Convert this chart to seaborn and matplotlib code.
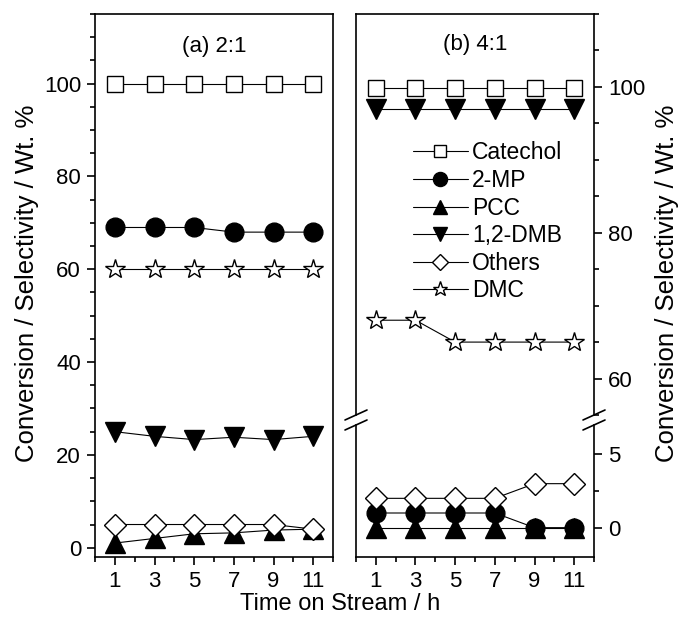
import matplotlib
matplotlib.use("Agg")
import matplotlib.pyplot as plt
import seaborn as sns
import numpy as np
from matplotlib.ticker import MultipleLocator, FixedLocator
from matplotlib.lines import Line2D

sns.set_theme(style="white")
plt.rcParams['font.family'] = ['Liberation Sans', 'DejaVu Sans']
plt.rcParams['text.color'] = 'black'

hours = [1, 3, 5, 7, 9, 11]
series_names = ["Catechol", "2-MP", "PCC", "1,2-DMB", "Others", "DMC"]

# Panel (a) 2:1
a_catechol = [100, 100, 100, 100, 100, 100]
a_2mp = [69, 69, 69, 68, 68, 68]
a_pcc = [1, 2, 3, 3.2, 3.8, 4]
a_dmb = [25, 24, 23.3, 23.8, 23.3, 24]
a_others = [5, 5, 5, 5, 5, 4]
a_dmc = [60, 60, 60, 60, 60, 60]

# Panel (b) 4:1
b_catechol = [99.8, 99.8, 99.8, 99.8, 99.8, 99.8]
b_2mp = [1, 1, 1, 1, 0, 0]
b_pcc = [0, 0, 0, 0, 0, 0]
b_dmb = [97, 97, 97, 97, 97, 97]
b_others = [2, 2, 2, 2, 3, 3]
b_dmc = [68, 68, 65, 65, 65, 65]

styles = {
    "Catechol": dict(marker="s", markersize=11, markerfacecolor="white"),
    "2-MP": dict(marker="o", markersize=13.5, markerfacecolor="black"),
    "PCC": dict(marker="^", markersize=14, markerfacecolor="black"),
    "1,2-DMB": dict(marker="v", markersize=14, markerfacecolor="black"),
    "Others": dict(marker="D", markersize=11.5, markerfacecolor="white"),
    "DMC": dict(marker="*", markersize=15, markerfacecolor="white"),
}

FS = 16
W, H = 681, 619
fig = plt.figure(figsize=(W / 100, H / 100), dpi=100)

def fx(px):
    return px / W

def fy(py):
    return 1 - py / H

axL = fig.add_axes([fx(95), fy(557), fx(333) - fx(95), fy(14) - fy(557)])
axU = fig.add_axes([fx(356), fy(415), fx(594) - fx(356), fy(14) - fy(415)])
axD = fig.add_axes([fx(356), fy(557), fx(594) - fx(356), fy(425) - fy(557)])

def draw(ax, name, vals):
    st = styles[name]
    sns.lineplot(x=hours, y=vals, ax=ax, color="black", linewidth=0.8,
                 markeredgecolor="black", markeredgewidth=1.0, zorder=3,
                 **st)

a_data = dict(zip(series_names, [a_catechol, a_2mp, a_pcc, a_dmb, a_others, a_dmc]))
b_data = dict(zip(series_names, [b_catechol, b_2mp, b_pcc, b_dmb, b_others, b_dmc]))

for n in series_names:
    draw(axL, n, a_data[n])
    draw(axU, n, b_data[n])
    draw(axD, n, b_data[n])

for ax in (axL, axU, axD):
    ax.set_xlim(0, 12)
    for s in ax.spines.values():
        s.set_color("black")
        s.set_linewidth(1.2)
    ax.set_xlabel("")
    ax.set_ylabel("")
    ax.tick_params(which="major", direction="out", length=6, width=1.2,
                   labelsize=FS, colors="black", pad=4)
    ax.tick_params(which="minor", direction="out", length=3.5, width=1.2,
                   colors="black")

axL.set_ylim(-2, 115)
axL.yaxis.set_major_locator(FixedLocator([0, 20, 40, 60, 80, 100]))
axL.yaxis.set_minor_locator(MultipleLocator(5))
axL.xaxis.set_major_locator(FixedLocator(hours))
axL.xaxis.set_minor_locator(MultipleLocator(2))
axL.tick_params(axis="both", which="both", left=True, bottom=True, right=False, top=False)

axU.set_ylim(55, 110)
axU.yaxis.set_major_locator(FixedLocator([60, 80, 100]))
axU.yaxis.set_minor_locator(MultipleLocator(5))
axU.yaxis.tick_right()
axU.tick_params(axis="y", which="both", right=True, left=False)
axU.tick_params(axis="x", which="both", bottom=False, top=False, labelbottom=False)
axU.spines["bottom"].set_visible(False)

axD.set_ylim(-2, 7)
axD.yaxis.set_major_locator(FixedLocator([0, 5]))
axD.yaxis.set_minor_locator(FixedLocator([2.5]))
axD.yaxis.tick_right()
axD.tick_params(axis="y", which="both", right=True, left=False)
axD.xaxis.set_major_locator(FixedLocator(hours))
axD.xaxis.set_minor_locator(MultipleLocator(2))
axD.tick_params(axis="x", which="both", bottom=True, top=False)
axD.spines["top"].set_visible(False)

for ax in (axL, axU, axD):
    if ax.get_legend() is not None:
        ax.get_legend().remove()

# break marks
for xs in (356, 594):
    for yc in (415, 425):
        fig.add_artist(Line2D([fx(xs - 11), fx(xs + 11)], [fy(yc + 5), fy(yc - 5)],
                              color="black", linewidth=1.2, transform=fig.transFigure))

axL.text(0.5, 0.94, "(a) 2:1", transform=axL.transAxes, ha="center", va="center",
         fontsize=FS, color="black")
axU.text(0.5, 0.923, "(b) 4:1", transform=axU.transAxes, ha="center", va="center",
         fontsize=FS, color="black")

fig.text(fx(27), fy(283), "Conversion / Selectivity / Wt. %", rotation=90,
         ha="center", va="center", fontsize=18.5, color="black")
fig.text(fx(667), fy(283), "Conversion / Selectivity / Wt. %", rotation=90,
         ha="center", va="center", fontsize=18.5, color="black")
fig.text(fx(340), fy(604), "Time on Stream / h", ha="center", va="center",
         fontsize=17, color="black")

handles = []
for n in series_names:
    st = dict(styles[n])
    st["markersize"] = st["markersize"] * 0.75
    handles.append(Line2D([], [], color="black", linewidth=0.8,
                          markeredgecolor="black", **st))
leg = axU.legend(handles, series_names, loc="upper left", bbox_to_anchor=(0.2, 0.705),
                 frameon=False, fontsize=FS + 0.5, handlelength=2.4, handletextpad=0.2,
                 labelspacing=0.2, borderaxespad=0)
for t in leg.get_texts():
    t.set_color("black")

fig.savefig("out.png", dpi=100)
